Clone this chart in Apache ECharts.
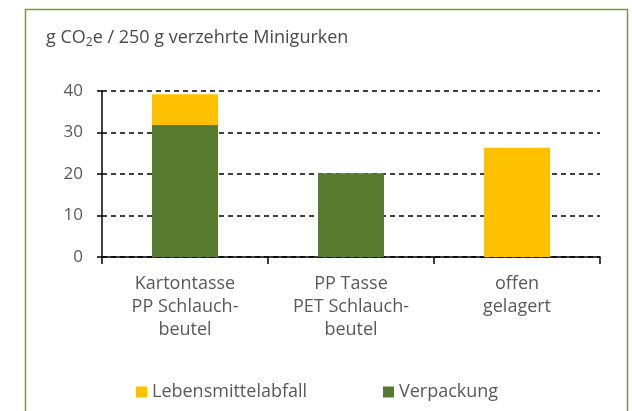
<!DOCTYPE html>
<html>
<head>
<meta charset="utf-8">
<script src="https://cdn.jsdelivr.net/npm/echarts@6/dist/echarts.min.js"></script>
<style>
  html, body { margin: 0; padding: 0; background: #fff; }
  #chart { width: 632px; height: 411px; }
</style>
</head>
<body>
<div id="chart"></div>
<script>
  // Werte
  const categories = ['Kartontasse\nPP Schlauch-\nbeutel', 'PP Tasse\nPET Schlauch-\nbeutel', 'offen\ngelagert']
  const verpackung = [31.8, 20.2, 0]
  const lebensmittelabfall = [7.4, 0, 26.3]
  const yTicks = [0, 10, 20, 30, 40]

  const textColor = '#595959'
  const font = '"Open Sans", "Noto Sans", sans-serif'

  const dom = echarts.init(document.getElementById('chart'))
  const option = {
    animation: false,
    textStyle: { fontFamily: font },
    graphic: [{
      type: 'polyline',
      shape: { points: [[25.5, 420], [25.5, 9.5], [627.5, 9.5], [627.5, 420]] },
      style: { stroke: '#7b9a2c', lineWidth: 1.5, fill: null }
    }, {
      type: 'text',
      left: 46,
      top: 29,
      style: {
        text: '{a|g CO}{s|2}{a|e / 250 g verzehrte Minigurken}',
        rich: {
          a: { fontSize: 18, fill: '#4a4a4a', fontFamily: font },
          s: { fontSize: 12, fill: '#4a4a4a', fontFamily: font, padding: [9, 0, 0, 0] }
        }
      }
    }],
    grid: { left: 102, right: 32, top: 91, bottom: 154 },
    legend: [{
      data: ['Lebensmittelabfall'],
      left: 131, top: 378,
      itemWidth: 11, itemHeight: 11,
      icon: 'rect',
      textStyle: { fontSize: 18, color: textColor, fontFamily: font }
    }, {
      data: ['Verpackung'],
      left: 378, top: 378,
      itemWidth: 11, itemHeight: 11,
      icon: 'rect',
      textStyle: { fontSize: 18, color: textColor, fontFamily: font }
    }],
    xAxis: {
      type: 'category',
      data: categories,
      axisLine: { lineStyle: { color: '#000', width: 1.5 } },
      axisTick: { show: true, length: 7, lineStyle: { color: '#000', width: 1.5 } },
      axisLabel: { color: textColor, fontSize: 18, lineHeight: 23, margin: 15, fontFamily: font }
    },
    yAxis: {
      type: 'value',
      min: yTicks[0],
      max: yTicks[yTicks.length - 1],
      interval: 10,
      axisLine: { show: true, lineStyle: { color: '#000', width: 1.5 } },
      axisTick: { show: true, length: 5, lineStyle: { color: '#000', width: 1.5 } },
      axisLabel: { color: textColor, fontSize: 17, margin: 19, fontFamily: font },
      splitLine: { lineStyle: { color: '#000', type: [5, 4], width: 1.5 } }
    },
    series: [{
      name: 'Verpackung',
      type: 'bar',
      stack: 'total',
      data: verpackung,
      barWidth: 66,
      itemStyle: { color: '#567a2e' }
    }, {
      name: 'Lebensmittelabfall',
      type: 'bar',
      stack: 'total',
      data: lebensmittelabfall,
      barWidth: 66,
      itemStyle: { color: '#ffc000' }
    }]
  }
  dom.setOption(option)
  window.addEventListener('resize', dom.resize)
</script>
</body>
</html>
